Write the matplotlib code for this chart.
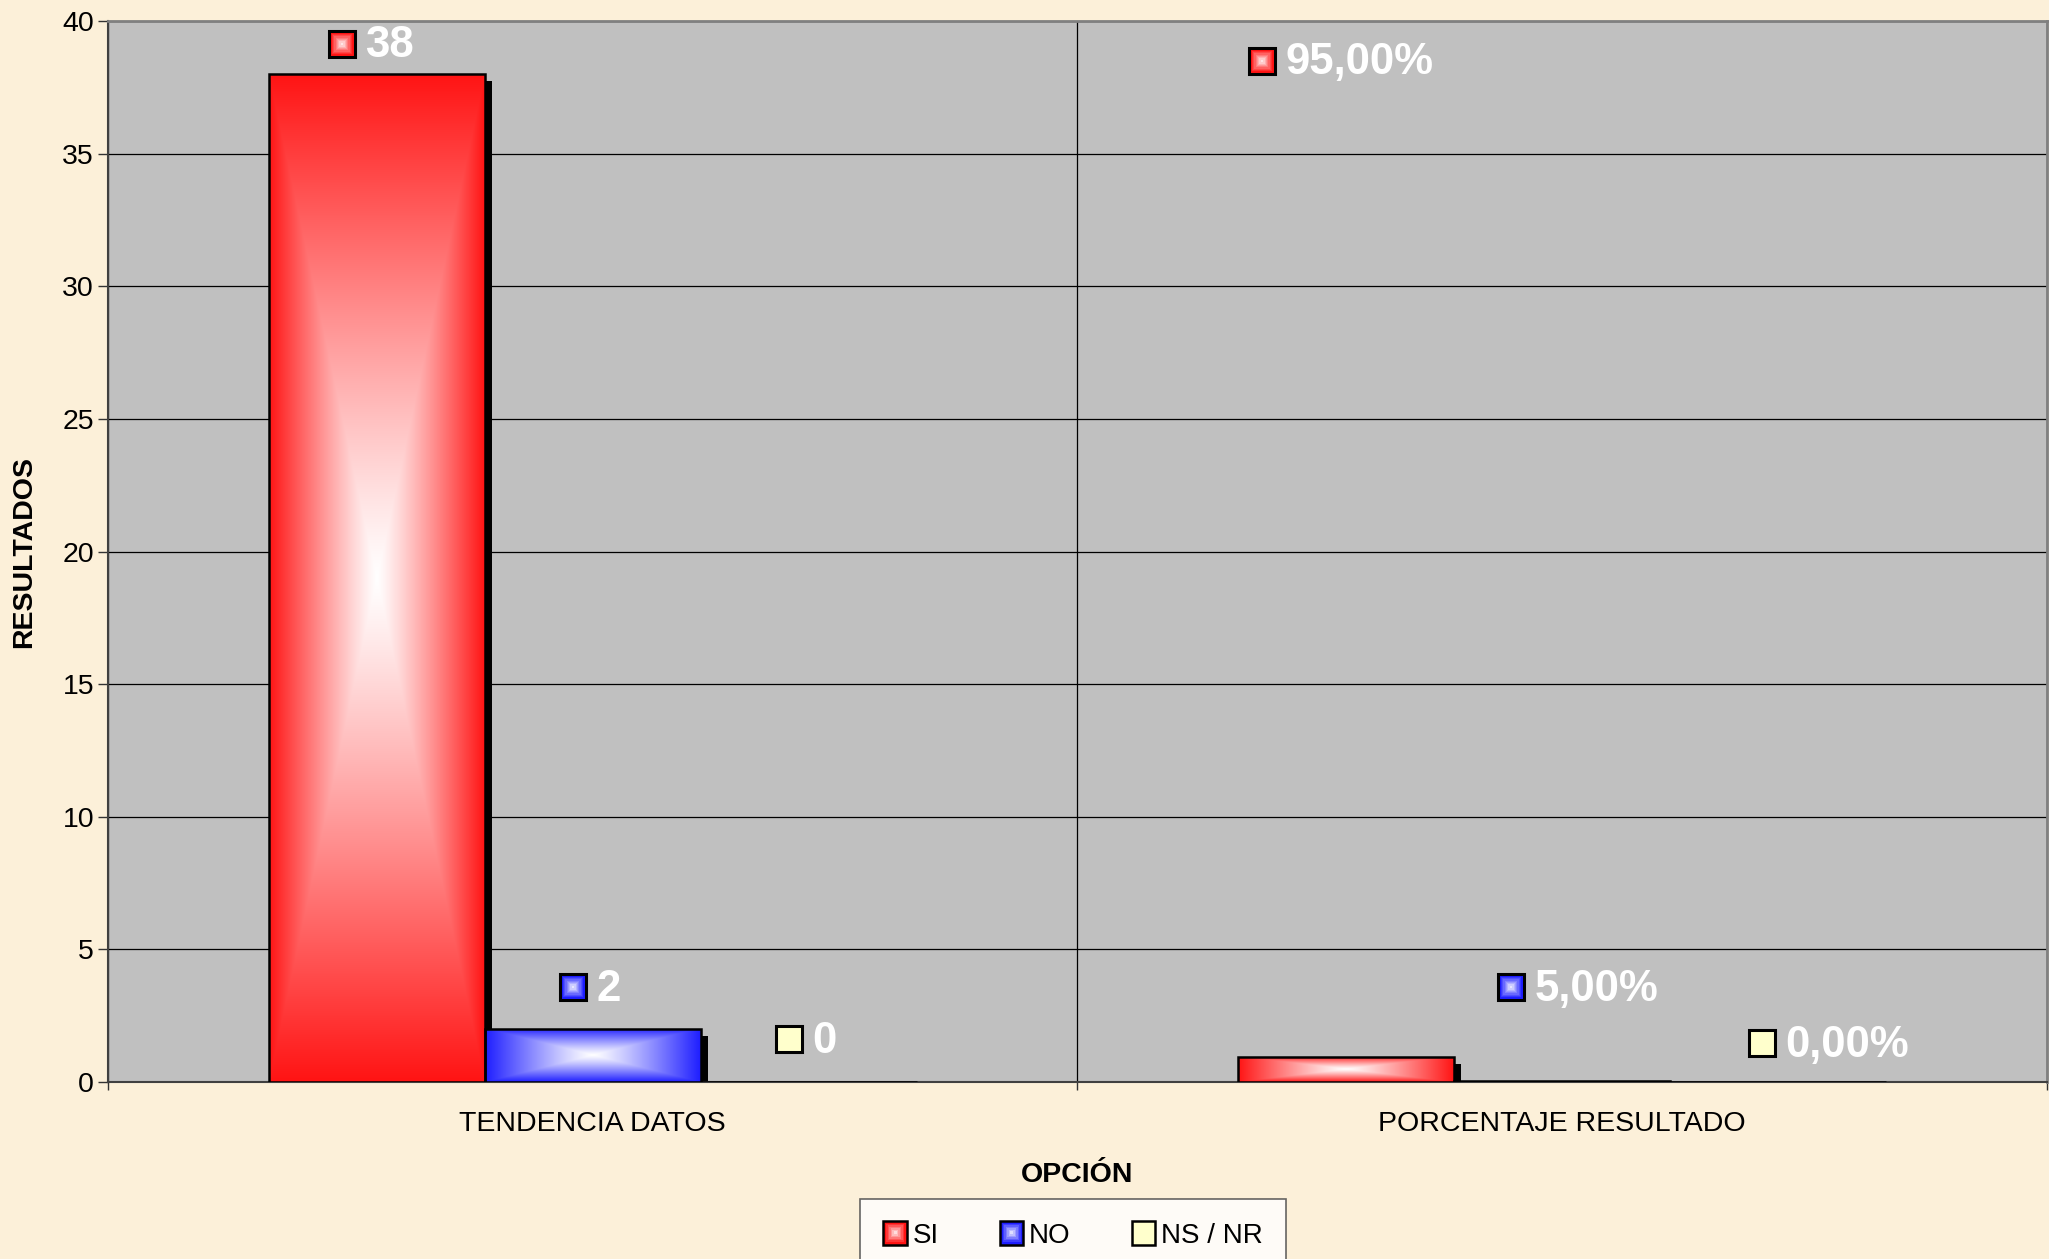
import numpy as np
import matplotlib
matplotlib.use('Agg')
import matplotlib.pyplot as plt
from matplotlib.colors import to_rgb
from matplotlib.patches import Rectangle
from matplotlib.legend_handler import HandlerBase
import matplotlib.patheffects as pe

# ---------------- data ----------------
categories = ['TENDENCIA DATOS', 'PORCENTAJE RESULTADO']
series_names = ['SI', 'NO', 'NS / NR']
si_values = [38, 0.95]
no_values = [2, 0.05]
nsnr_values = [0, 0]
si_labels = ['38', '95,00%']
no_labels = ['2', '5,00%']
nsnr_labels = ['0', '0,00%']
y_ticks = [0, 5, 10, 15, 20, 25, 30, 35, 40]

# ---------------- style / layout ----------------
plt.rcParams['font.family'] = ['Liberation Sans', 'DejaVu Sans']
series_colors = ['#FF1414', '#1E1EFF', '#FFFFCC']
bg_color = '#FCF0D9'
plot_bg = '#C0C0C0'
bar_w = 0.2227
# label anchor (marker centre) positions in data units, per series per category
label_pos = {
    0: [(-0.259, 39.15), (0.690, 38.5)],
    1: [(-0.020, 3.58), (0.947, 3.58)],
    2: [(0.202, 1.62), (1.206, 1.47)],
}

fig = plt.figure(figsize=(20.49, 12.59), dpi=100, facecolor=bg_color)
ax = fig.add_axes([0.0527, 0.1406, 0.9463, 0.8427])
ax.set_facecolor(plot_bg)

x = np.arange(len(categories))
values = [si_values, no_values, nsnr_values]
labels = [si_labels, no_labels, nsnr_labels]
white = np.array([1.0, 1.0, 1.0])


def gradient_fill(patch, color, gamma=1.15):
    x0, y0 = patch.get_x(), patch.get_y()
    w, h = patch.get_width(), patch.get_height()
    if h <= 0:
        return
    n = 300
    xs = np.linspace(-1, 1, n)
    ys = np.linspace(-1, 1, n)
    X, Y = np.meshgrid(xs, ys)
    t = np.maximum(np.abs(X), np.abs(Y)) ** gamma
    c = np.array(to_rgb(color))
    rgb = white[None, None, :] * (1 - t[..., None]) + c[None, None, :] * t[..., None]
    im = ax.imshow(rgb, extent=(x0, x0 + w, y0, y0 + h), aspect='auto',
                   zorder=3, interpolation='bilinear', origin='lower')
    im.set_clip_path(patch)


for i, (vals, col) in enumerate(zip(values, series_colors)):
    pos = x + (i - 1) * bar_w
    base = ax.bar(pos, vals, width=bar_w, facecolor='black', edgecolor='black',
                  linewidth=0, zorder=2)
    for p in base:
        p.set_path_effects([pe.SimplePatchShadow(offset=(5, -5), shadow_rgbFace='black', alpha=1.0),
                            pe.Normal()])
    edges = ax.bar(pos, vals, width=bar_w, facecolor='none', edgecolor='black',
                   linewidth=1.8, zorder=4)
    for p in edges:
        gradient_fill(p, col)


def grad_marker(xc, yc, color, ms=19, steps=9):
    c = np.array(to_rgb(color))
    ax.plot([xc], [yc], marker='s', ms=ms, mfc=color, mec='black', mew=2.2,
            zorder=6, clip_on=False, ls='none')
    if color.upper() == '#FFFFCC':
        return
    for k in range(1, steps):
        f = k / steps
        cc = c * (1 - f) + white * f
        ax.plot([xc], [yc], marker='s', ms=(ms - 2.2) * (1 - f), mfc=cc, mew=0,
                zorder=6 + k * 0.01, clip_on=False, ls='none')


for i in range(3):
    for j in range(len(categories)):
        xc, yc = label_pos[i][j]
        grad_marker(xc, yc, series_colors[i])
        ax.annotate(labels[i][j], (xc, yc), xytext=(17, -1.5), textcoords='offset points',
                    ha='left', va='center', color='white', fontsize=31.5,
                    fontweight='bold', zorder=7)

ax.set_xlim(-0.5, 1.5)
ax.set_ylim(0, 40)
ax.set_yticks(y_ticks)
ax.tick_params(axis='y', labelsize=20.5, length=7, width=1, color='#333333', pad=3)
ax.set_xticks(x)
ax.set_xticklabels(categories, fontsize=20.5)
ax.tick_params(axis='x', which='major', length=0, pad=21)
ax.set_xticks([-0.5, 0.5, 1.5], minor=True)
ax.tick_params(axis='x', which='minor', length=6, width=1, color='#333333')
ax.yaxis.grid(True, color='black', linewidth=0.9, zorder=1)
ax.xaxis.grid(True, which='minor', color='black', linewidth=0.9)
ax.xaxis.grid(False, which='major')
ax.set_axisbelow(True)

for side in ['top', 'right']:
    ax.spines[side].set_color('#808080')
    ax.spines[side].set_linewidth(2)
ax.spines['left'].set_color('#404040')
ax.spines['left'].set_linewidth(1.5)
ax.spines['bottom'].set_color('#404040')
ax.spines['bottom'].set_linewidth(1.5)

ax.set_ylabel('RESULTADOS', fontsize=20.5, fontweight='bold', labelpad=18)
ax.set_xlabel('OPCIÓN', fontsize=20.5, fontweight='bold', labelpad=18)


class GradHandler(HandlerBase):
    def __init__(self, color):
        super().__init__()
        self.color = color

    def create_artists(self, legend, orig_handle, xdescent, ydescent, width, height,
                       fontsize, trans):
        s = 17
        cx = -xdescent + s / 2
        cy = -ydescent + height / 2
        arts = []
        c = np.array(to_rgb(self.color))
        outer = Rectangle((cx - s / 2, cy - s / 2), s, s, facecolor=self.color,
                          edgecolor='black', linewidth=1.8, transform=trans)
        arts.append(outer)
        if self.color.upper() != '#FFFFCC':
            steps = 7
            for k in range(1, steps):
                f = k / steps
                ss = (s - 2) * (1 - f)
                cc = c * (1 - f) + white * f
                arts.append(Rectangle((cx - ss / 2, cy - ss / 2), ss, ss, facecolor=cc,
                                      edgecolor='none', transform=trans))
        return arts


handles = [Rectangle((0, 0), 1, 1) for _ in series_names]
hmap = {h: GradHandler(c) for h, c in zip(handles, series_colors)}
leg = fig.legend(handles, series_names, handler_map=hmap, loc='upper center',
                 bbox_to_anchor=(0.5237, 1 - 1199 / 1259), ncol=3, fontsize=20,
                 frameon=True, fancybox=False, edgecolor='#404040',
                 handlelength=0.75, handletextpad=0.3, columnspacing=2.2,
                 borderpad=0.85, borderaxespad=0)
leg.get_frame().set_facecolor('white')
leg.get_frame().set_linewidth(1.2)

fig.savefig('out.png', dpi=100, facecolor=bg_color)
